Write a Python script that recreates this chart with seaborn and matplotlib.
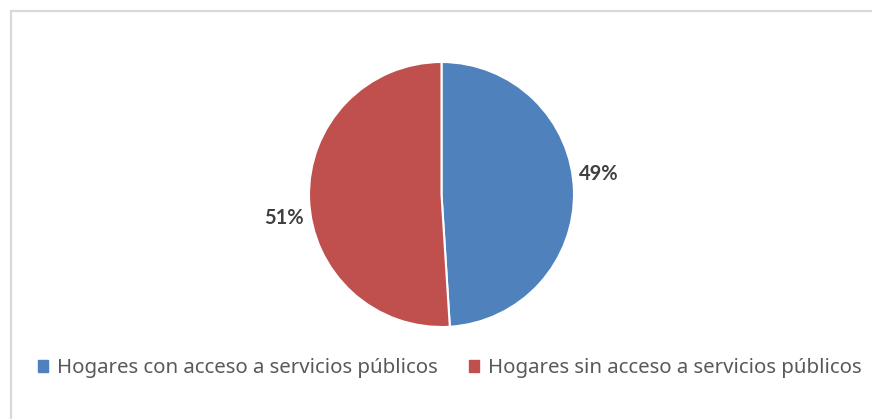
import matplotlib
matplotlib.use("Agg")
import matplotlib.pyplot as plt
import seaborn as sns
from matplotlib.patches import Patch, Rectangle

# data
categories = ["Hogares con acceso a servicios públicos",
              "Hogares sin acceso a servicios públicos"]
shares = [49, 51]
colors = ["#4F81BD", "#C0504D"]

sns.set_style("white")
plt.rcParams["font.family"] = ["Noto Sans", "DejaVu Sans"]

fig = plt.figure(figsize=(8.72, 4.19), dpi=100)

# chart border (light gray), running off right/bottom edges
fig.add_artist(Rectangle((10.5 / 872, -0.2), 1.0, (1 - 10.5 / 419) + 0.2,
                         transform=fig.transFigure, fill=False,
                         edgecolor="#d9d9d9", linewidth=1.6))

# pie axes: center (441.5, 194.5) px, radius 132.5 px
r = 132.5
cx, cy = 441.5, 194.5
ax = fig.add_axes([(cx - r) / 872, 1 - (cy + r) / 419, 2 * r / 872, 2 * r / 419])
wedges, texts, autotexts = ax.pie(
    shares, colors=colors, startangle=90, counterclock=False,
    autopct="%1.0f%%", pctdistance=1.19,
    wedgeprops=dict(edgecolor="white", linewidth=1.5),
    textprops=dict(color="#404040", fontsize=14.5, fontweight="bold",
                   family=["Lato", "DejaVu Sans"]))
ax.set_xlim(-1, 1)
ax.set_ylim(-1, 1)
ax.set_aspect("auto")

# nudge labels like the original layout
for t, dy in zip(autotexts, [0.12, -0.14]):
    x, y = t.get_position()
    t.set_position((x, y + dy))

handles = [Patch(facecolor=c, edgecolor=c) for c in colors]
fig.legend(handles, categories, loc="center", bbox_to_anchor=(0.516, 1 - 368 / 419),
           ncol=2, frameon=False, fontsize=14.7, handlelength=0.5, handleheight=0.5,
           handletextpad=0.45, columnspacing=1.5, labelcolor="#595959")

fig.savefig("out.png", dpi=100)
